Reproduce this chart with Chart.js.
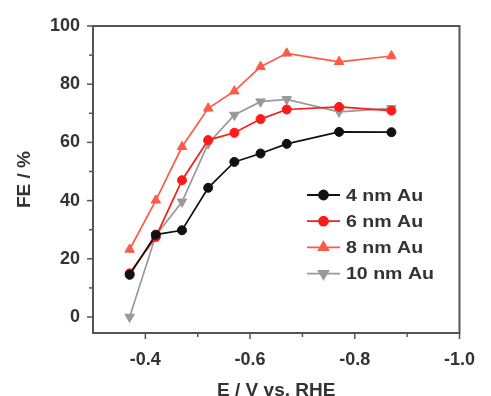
<!DOCTYPE html>
<html>
<head>
<meta charset="utf-8">
<script src="https://cdn.jsdelivr.net/npm/chart.js@4.4.1/dist/chart.umd.min.js"></script>
<style>
    body { margin: 0; background: #fff; }
    #wrap { width: 491px; height: 396px; }
</style>
</head>
<body>
<div id="wrap"><canvas id="chart" width="491" height="396"></canvas></div>
<script>
// potentials (V vs. RHE)
const potentials = [-0.37, -0.42, -0.47, -0.52, -0.57, -0.62, -0.67, -0.77, -0.87]

// FE values
const fe4nm = [14.5, 28.3, 29.8, 44.4, 53.3, 56.2, 59.5, 63.6, 63.5]
const fe6nm = [15.0, 27.5, 47.0, 60.8, 63.3, 68.0, 71.3, 72.2, 70.9]
const fe8nm = [23.2, 40.1, 58.5, 71.7, 77.6, 86.0, 90.6, 87.7, 89.7]
const fe10nm = [0.0, 28.0, 39.6, 59.6, 69.4, 74.0, 74.8, 70.5, 71.7]

const labels = ['4 nm Au', '6 nm Au', '8 nm Au', '10 nm Au']

const xTicks = [-0.4, -0.5, -0.6, -0.7, -0.8, -0.9, -1.0]
const yTicks = [0, 10, 20, 30, 40, 50, 60, 70, 80, 90, 100]

const FONT = '"Liberation Sans", Arial, sans-serif'
const AXIS = '#555'

function toPoints(vals) {
    return vals.map((v, i) => ({ x: potentials[i], y: v }))
}

function series(label, vals, color, style, rotation) {
    return {
        label: label,
        data: toPoints(vals),
        borderColor: color,
        backgroundColor: color,
        borderWidth: 1.7,
        pointStyle: style,
        pointRotation: rotation || 0,
        pointRadius: style === 'circle' ? 4.5 : 5.5,
        pointBorderWidth: 1,
        tension: 0
    }
}

// frame, tick marks and in-plot legend
const decor = {
    id: 'decor',
    afterDraw(chart) {
        const ctx = chart.ctx
        const a = chart.chartArea
        const xs = chart.scales.x
        const ys = chart.scales.y
        ctx.save()
        ctx.strokeStyle = AXIS
        ctx.lineWidth = 2
        ctx.strokeRect(a.left, a.top, a.right - a.left, a.bottom - a.top)

        ctx.lineWidth = 1.5
        xTicks.forEach((v, i) => {
            const px = xs.getPixelForValue(v)
            const len = i % 2 === 0 ? 6 : 4
            ctx.beginPath()
            ctx.moveTo(px, a.bottom)
            ctx.lineTo(px, a.bottom + len)
            ctx.stroke()
        })
        yTicks.forEach((v, i) => {
            const py = ys.getPixelForValue(v)
            const len = i % 2 === 0 ? 6 : 4
            ctx.beginPath()
            ctx.moveTo(a.left, py)
            ctx.lineTo(a.left - len, py)
            ctx.stroke()
        })

        // legend
        const lx = 307, tx = 346
        let ly = 195
        chart.data.datasets.forEach(ds => {
            ctx.strokeStyle = ds.borderColor
            ctx.lineWidth = 1.8
            ctx.beginPath()
            ctx.moveTo(lx, ly)
            ctx.lineTo(lx + 33, ly)
            ctx.stroke()
            Chart.helpers.drawPoint(ctx, {
                pointStyle: ds.pointStyle,
                rotation: ds.pointRotation,
                radius: ds.pointRadius,
                borderWidth: 1
            }, lx + 16.5, ly)
            ctx.fillStyle = ds.borderColor
            ctx.fill()
            ctx.save()
            ctx.translate(tx, ly + 1)
            ctx.scale(1.15, 1)
            ctx.fillStyle = '#333'
            ctx.font = 'bold 17px ' + FONT
            ctx.textBaseline = 'middle'
            ctx.textAlign = 'left'
            ctx.fillText(ds.label, 0, 0)
            ctx.restore()
            ly += 26.2
        })
        ctx.restore()
    }
}

new Chart(document.getElementById('chart'), {
    type: 'line',
    data: {
        datasets: [
            series(labels[0], fe4nm, '#111111', 'circle'),
            series(labels[1], fe6nm, '#ff1a1a', 'circle'),
            series(labels[2], fe8nm, '#ff5a48', 'triangle'),
            series(labels[3], fe10nm, '#9a9a9a', 'triangle', 180)
        ]
    },
    options: {
        responsive: false,
        animation: false,
        layout: { padding: { top: 26, right: 20, left: 0, bottom: 0 } },
        plugins: {
            legend: { display: false },
            tooltip: { enabled: false }
        },
        scales: {
            x: {
                type: 'linear',
                reverse: true,
                min: -1.0,
                max: -0.3,
                afterFit(scale) { scale.height = 63 },
                afterBuildTicks(scale) { scale.ticks = xTicks.map(v => ({ value: v })) },
                grid: { display: false, drawTicks: false },
                border: { display: false },
                ticks: {
                    autoSkip: false,
                    maxRotation: 0,
                    padding: 16,
                    color: '#333',
                    font: { family: FONT, size: 18, weight: 'bold' },
                    callback: (v, i) => (i % 2 === 0 ? v.toFixed(1) : '')
                },
                title: {
                    display: true,
                    text: 'E / V vs. RHE',
                    color: '#333',
                    padding: { top: 0, bottom: -6 },
                    font: { family: FONT, size: 19, weight: 'bold' }
                }
            },
            y: {
                min: -5.5,
                max: 100,
                afterFit(scale) { scale.width = 93 },
                afterBuildTicks(scale) { scale.ticks = yTicks.map(v => ({ value: v })) },
                grid: { display: false, drawTicks: false },
                border: { display: false },
                ticks: {
                    autoSkip: false,
                    padding: 13,
                    color: '#333',
                    font: { family: FONT, size: 18, weight: 'bold' },
                    callback: (v, i) => (i % 2 === 0 ? String(v) : '')
                },
                title: {
                    display: true,
                    text: 'FE / %',
                    color: '#333',
                    padding: { top: 13, bottom: 0 },
                    font: { family: FONT, size: 19, weight: 'bold' }
                }
            }
        }
    },
    plugins: [decor]
})
</script>
</body>
</html>
